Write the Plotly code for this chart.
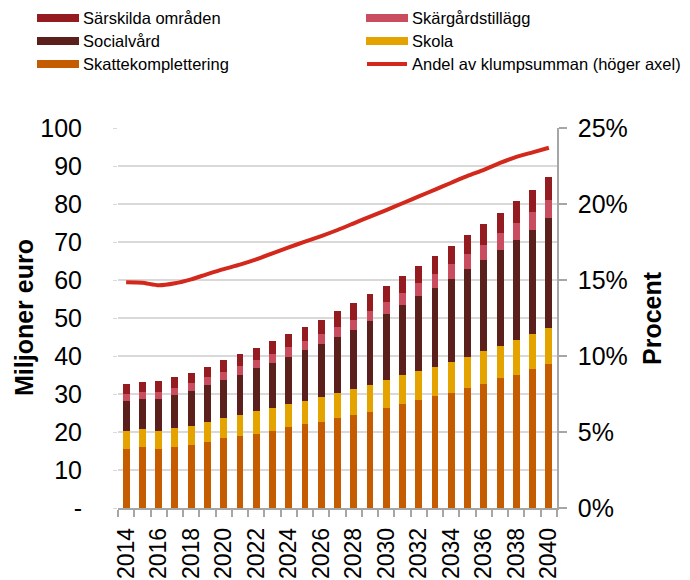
import plotly.graph_objects as go

years = list(range(2014, 2041))

skattekomplettering = [15.6, 16.0, 15.6, 16.0, 16.6, 17.5, 18.3, 19.0, 19.6, 20.3, 21.2, 22.0, 22.6, 23.7,
                       24.5, 25.3, 26.3, 27.4, 28.4, 29.5, 30.3, 31.5, 32.7, 34.1, 35.0, 36.5, 37.8]
skola = [4.7, 4.7, 4.7, 5.0, 5.1, 5.1, 5.3, 5.6, 5.8, 6.0, 6.1, 6.2, 6.7, 6.6,
         6.9, 7.1, 7.4, 7.5, 7.7, 7.7, 8.2, 8.3, 8.6, 8.6, 9.2, 9.2, 9.5]
socialvard = [7.9, 8.1, 8.5, 8.7, 9.2, 9.8, 10.2, 10.5, 11.4, 11.9, 12.5, 13.3, 13.9, 14.8,
              15.5, 16.7, 17.4, 18.5, 19.6, 20.6, 21.8, 23.1, 24.0, 25.2, 26.3, 27.5, 29.0]
skargardstillagg = [1.7, 1.8, 1.8, 2.0, 2.0, 2.1, 2.0, 2.3, 2.2, 2.2, 2.6, 2.4, 2.6, 2.6,
                    2.7, 2.8, 3.0, 3.2, 3.4, 3.7, 3.8, 3.9, 3.9, 4.4, 4.5, 4.7, 4.7]
sarskilda = [2.7, 2.6, 2.7, 2.7, 2.7, 2.7, 3.2, 3.1, 3.1, 3.5, 3.3, 3.7, 3.8, 4.1,
             4.3, 4.3, 4.4, 4.5, 4.6, 4.8, 4.9, 5.0, 5.5, 5.3, 5.7, 5.9, 6.0]
andel = [14.85, 14.82, 14.65, 14.78, 15.04, 15.39, 15.72, 16.01, 16.36, 16.75, 17.15, 17.52, 17.89, 18.29,
         18.73, 19.17, 19.6, 20.05, 20.5, 20.95, 21.4, 21.85, 22.25, 22.7, 23.1, 23.4, 23.7]

left_ticks = list(range(0, 101, 10))
left_labels = ["-"] + [str(v) for v in left_ticks[1:]]
right_ticks = list(range(0, 26, 5))
right_labels = [f"{v}%" for v in right_ticks]
x_labels_years = years[::2]

C_SARS = "#941c20"
C_SKAR = "#c94c5f"
C_SOC = "#5b1f1c"
C_SKOLA = "#e5a300"
C_SKATT = "#c55c00"
C_LINE = "#d2291c"
LINE_NAME = "Andel av klumpsumman (höger axel)"

FONT = "Liberation Sans, Arial, sans-serif"

fig = go.Figure()

stack = [
    ("Skattekomplettering", skattekomplettering, C_SKATT),
    ("Skola", skola, C_SKOLA),
    ("Socialvård", socialvard, C_SOC),
    ("Skärgårdstillägg", skargardstillagg, C_SKAR),
    ("Särskilda områden", sarskilda, C_SARS),
]
for name, vals, col in stack:
    fig.add_trace(go.Bar(x=years, y=vals, name=name, marker=dict(color=col, line=dict(width=0)),
                         showlegend=False, yaxis="y"))

fig.add_trace(go.Scatter(x=years, y=andel, mode="lines", name=LINE_NAME,
                         line=dict(color=C_LINE, width=4, shape="spline", smoothing=0.6),
                         yaxis="y2", showlegend=False))

L, R, T, B = 118, 133, 128, 72
W, H = 690, 580
pw = W - L - R
ph = H - T - B


def px(xp):
    return (xp - L) / pw


def py(yp):
    return (H - B - yp) / ph


# manual two-column legend (swatches as in the original)
legend_items = [
    ("Särskilda områden", C_SARS, "bar"),
    ("Skärgårdstillägg", C_SKAR, "bar"),
    ("Socialvård", C_SOC, "bar"),
    ("Skola", C_SKOLA, "bar"),
    ("Skattekomplettering", C_SKATT, "bar"),
    (LINE_NAME, C_LINE, "line"),
]
col_x = [37, 366]
row_y = [18, 41, 64]
sw_w, sw_h = 42, 8
shapes = []
annotations = []
for i, (name, col, kind) in enumerate(legend_items):
    cx = col_x[i % 2]
    cy = row_y[i // 2]
    if kind == "bar":
        shapes.append(dict(type="rect", xref="paper", yref="paper",
                           x0=px(cx), x1=px(cx + sw_w), y0=py(cy + sw_h / 2), y1=py(cy - sw_h / 2),
                           fillcolor=col, line=dict(width=0), layer="above"))
    else:
        shapes.append(dict(type="line", xref="paper", yref="paper",
                           x0=px(cx + 1), x1=px(cx + sw_w - 1), y0=py(cy), y1=py(cy),
                           line=dict(color=col, width=4), layer="above"))
    annotations.append(dict(text=name, xref="paper", yref="paper", x=px(cx + sw_w + 2), y=py(cy),
                            xanchor="left", yanchor="middle", showarrow=False,
                            font=dict(size=16.5, family=FONT, color="#000000")))

annotations += [
    dict(text="<b>Miljoner euro</b>", xref="paper", yref="paper",
         x=px(24), y=py(318), textangle=-90, showarrow=False,
         xanchor="center", yanchor="middle", font=dict(size=25, family=FONT, color="#000000")),
    dict(text="<b>Procent</b>", xref="paper", yref="paper",
         x=px(652), y=py(318), textangle=-90, showarrow=False,
         xanchor="center", yanchor="middle", font=dict(size=25, family=FONT, color="#000000")),
]

fig.update_layout(
    width=W, height=H,
    margin=dict(l=L, r=R, t=T, b=B, autoexpand=False),
    paper_bgcolor="white", plot_bgcolor="white",
    barmode="stack", bargap=0.58,
    font=dict(family=FONT, color="#000000"),
    showlegend=False,
    xaxis=dict(range=[2013.5, 2040.5], tickmode="array", tickvals=x_labels_years,
               ticktext=[str(v) for v in x_labels_years], tickangle=-90,
               tickfont=dict(size=23, family=FONT), ticks="", ticklabelstandoff=9,
               showline=True, linecolor="#a6a6a6", linewidth=1.5, showgrid=False, zeroline=False,
               automargin=False,
               minor=dict(tickmode="array", tickvals=[y - 0.5 for y in years] + [years[-1] + 0.5],
                          ticks="outside", ticklen=7, tickcolor="#a6a6a6", tickwidth=1.5, showgrid=False)),
    yaxis=dict(range=[0, 100], tickmode="array", tickvals=left_ticks, ticktext=left_labels,
               tickfont=dict(size=25, family=FONT), showgrid=True, gridcolor="#d9d9d9", gridwidth=1.5,
               zeroline=False, showline=False, ticks="outside", ticklen=4, tickcolor="#d9d9d9",
               ticklabelstandoff=26, automargin=False),
    yaxis2=dict(range=[0, 25], overlaying="y", side="right", tickmode="array", tickvals=right_ticks,
                ticktext=right_labels, tickfont=dict(size=25, family=FONT), showgrid=False,
                zeroline=False, showline=True, linecolor="#a6a6a6", linewidth=1.5,
                ticks="outside", ticklen=8, tickcolor="#a6a6a6", tickwidth=1.5,
                ticklabelstandoff=6, automargin=False),
    shapes=shapes,
    annotations=annotations,
)

fig.write_html("out.html", config={"displayModeBar": False},
               post_script="document.body.style.margin='0px';")
